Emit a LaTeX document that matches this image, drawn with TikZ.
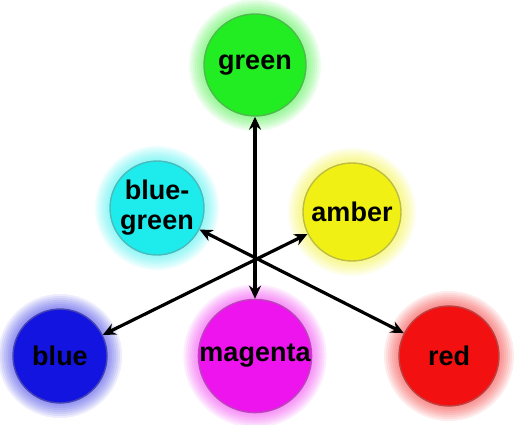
\documentclass[tikz,border=0pt]{standalone}
\usepackage{fontspec}
\setmainfont{Liberation Sans}
\usetikzlibrary{arrows.meta}
\definecolor{lgreen}{RGB}{34,236,34}
\definecolor{lcyan}{RGB}{30,236,236}
\definecolor{lamber}{RGB}{240,240,20}
\definecolor{lblue}{RGB}{20,20,224}
\definecolor{lmagenta}{RGB}{238,20,238}
\definecolor{lred}{RGB}{242,16,16}
\begin{document}
\begin{tikzpicture}[x=1pt,y=1pt,>={Stealth[length=13pt,width=12pt]},
    lamp/.style={circle,fill=#1,draw=#1!55!gray,line width=1.4pt,
      inner sep=0pt,align=center,text=black,
      font=\bfseries\fontsize{27}{30}\selectfont,
      preaction={draw=#1,fill=none,opacity=0.08,line width=30pt},
      preaction={draw=#1,fill=none,opacity=0.08,line width=26pt},
      preaction={draw=#1,fill=none,opacity=0.08,line width=22pt},
      preaction={draw=#1,fill=none,opacity=0.08,line width=18pt},
      preaction={draw=#1,fill=none,opacity=0.08,line width=14pt},
      preaction={draw=#1,fill=none,opacity=0.08,line width=10pt},
      preaction={draw=#1,fill=none,opacity=0.08,line width=6pt}},
    ray/.style={<->,line width=3.2pt}]
    \useasboundingbox (0,0) rectangle (518,424);
    % the six lamps
    \node[lamp=lgreen,minimum size=102pt] (green) at (255,359) {green};
    \node[lamp=lcyan,minimum size=94pt] (bluegreen) at (157,216) {blue-\\green};
    \node[lamp=lamber,minimum size=98pt] (amber) at (352,212) {amber};
    \node[lamp=lblue,minimum size=94pt] (blue) at (60,68) {blue};
    \node[lamp=lmagenta,minimum size=98pt] (magenta) at (255,68) {magenta};
    \node[lamp=lred,minimum size=100pt] (red) at (449,68) {red};
    % the three axes
    \draw[ray] (magenta) -- (green);
    \draw[ray] (bluegreen) -- (red);
    \draw[ray] (blue) -- (amber);
  \end{tikzpicture}
\end{document}
